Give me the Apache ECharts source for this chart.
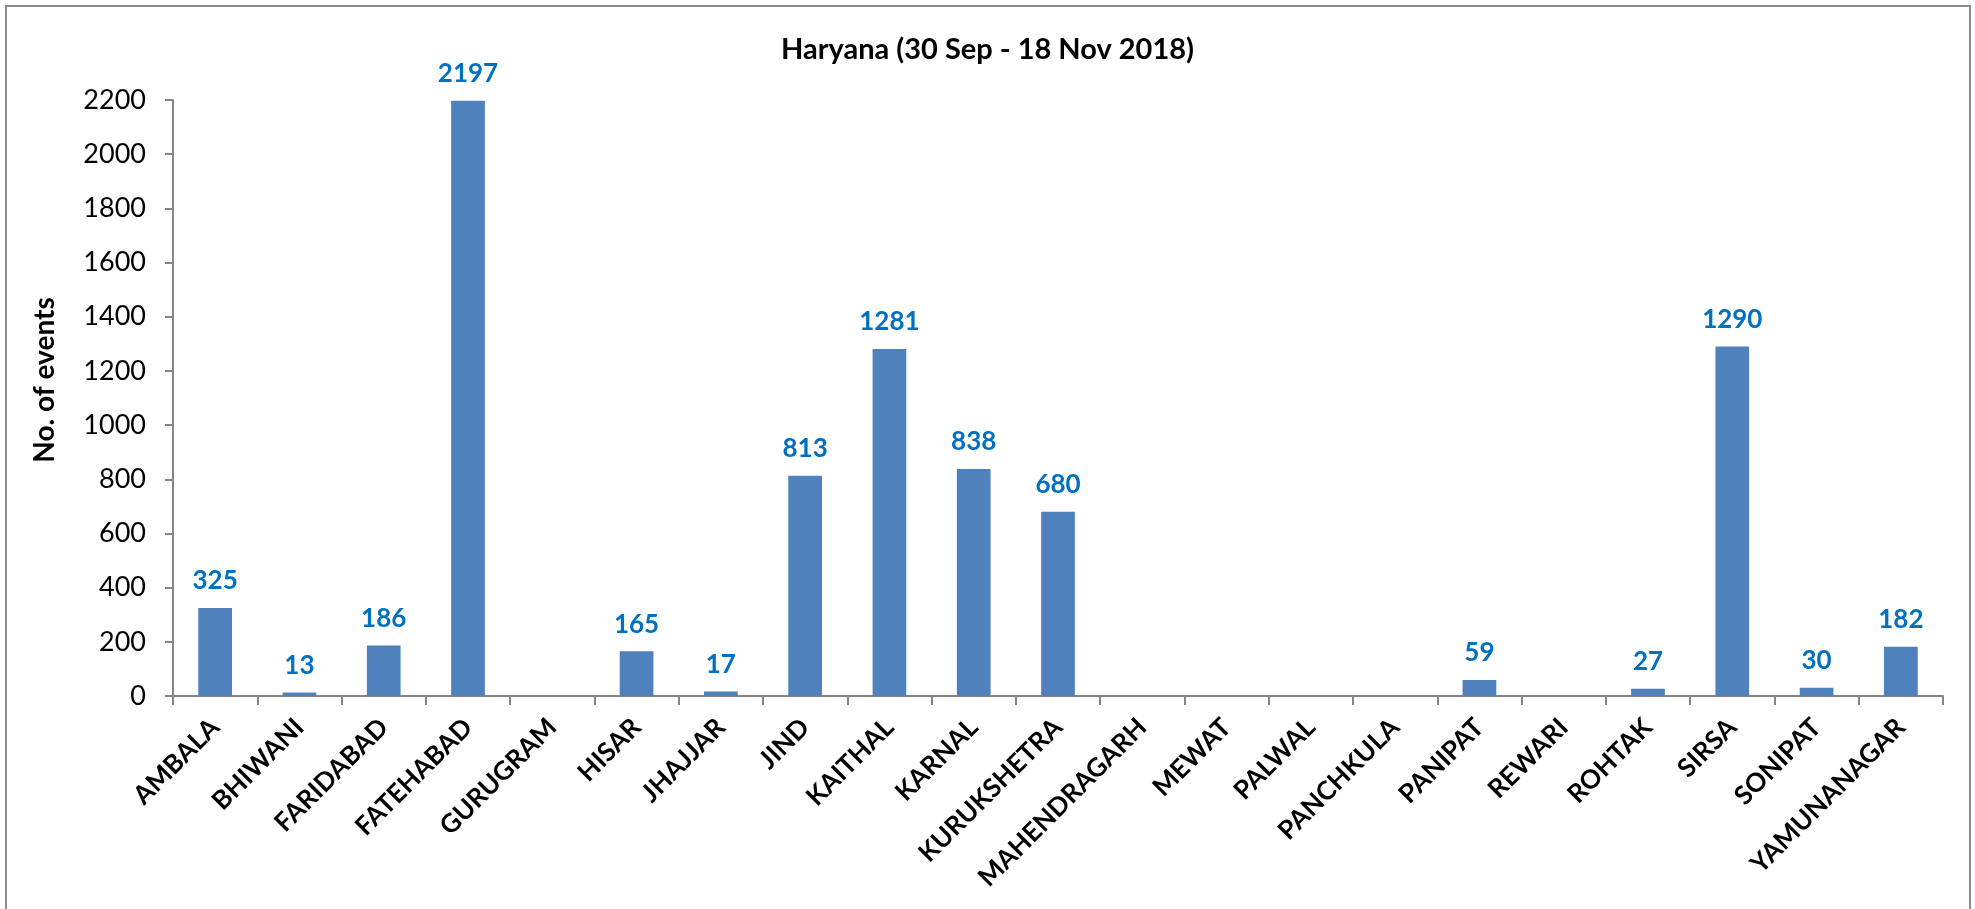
<!DOCTYPE html>
<html>
<head>
<meta charset="utf-8">
<script src="https://cdn.jsdelivr.net/npm/echarts@6/dist/echarts.min.js"></script>
<style>
html,body{margin:0;padding:0;background:#fff;}
#chart{width:1975px;height:909px;}
</style>
</head>
<body>
<div id="chart"></div>
<script>
const titleText = 'Haryana (30 Sep - 18 Nov 2018)';
const yAxisName = 'No. of events';
const districts = ['AMBALA','BHIWANI','FARIDABAD','FATEHABAD','GURUGRAM','HISAR','JHAJJAR','JIND','KAITHAL','KARNAL','KURUKSHETRA','MAHENDRAGARH','MEWAT','PALWAL','PANCHKULA','PANIPAT','REWARI','ROHTAK','SIRSA','SONIPAT','YAMUNANAGAR'];
const events = [325,13,186,2197,0,165,17,813,1281,838,680,0,0,0,0,59,0,27,1290,30,182];
const yMin = 0, yMax = 2200, yStep = 200;

const FONT = 'Lato, "Open Sans", sans-serif';
const chart = echarts.init(document.getElementById('chart'));
chart.setOption({
  backgroundColor: '#ffffff',
  animation: false,
  graphic: [{
    type: 'rect',
    shape: {x: 6, y: 6, width: 1964, height: 920},
    style: {fill: 'none', stroke: '#8c8c8c', lineWidth: 2},
    silent: true
  }],
  title: {
    text: titleText,
    left: 'center',
    top: 30,
    textStyle: {fontFamily: FONT, fontWeight: 'bold', fontSize: 29, color: '#000'}
  },
  grid: {left: 173, right: 32, top: 100, bottom: 213, containLabel: false},
  xAxis: {
    type: 'category',
    data: districts,
    axisLine: {lineStyle: {color: '#868686', width: 2}},
    axisTick: {show: true, length: 9, alignWithLabel: false, lineStyle: {color: '#868686', width: 2}},
    axisLabel: {
      rotate: 45, interval: 0, margin: 27,
      fontFamily: FONT, fontWeight: 'bold', fontSize: 26, color: '#000'
    }
  },
  yAxis: {
    type: 'value',
    min: yMin, max: yMax, interval: yStep,
    name: yAxisName,
    nameLocation: 'middle',
    nameGap: 114,
    nameRotate: 90,
    nameTextStyle: {fontFamily: FONT, fontWeight: 'bold', fontSize: 28, color: '#000', padding: [0, 0, 0, 36]},
    axisLine: {show: true, lineStyle: {color: '#868686', width: 2}},
    axisTick: {show: true, length: 8, lineStyle: {color: '#868686', width: 2}},
    splitLine: {show: false},
    axisLabel: {margin: 27, fontFamily: FONT, fontSize: 27, color: '#000', formatter: v => String(v)}
  },
  series: [{
    type: 'bar',
    data: events,
    barWidth: '40%',
    itemStyle: {color: '#4f81bd', borderWidth: 0},
    label: {
      show: true,
      position: 'top',
      distance: 14,
      fontFamily: FONT, fontWeight: 'bold', fontSize: 26, color: '#0070c0',
      formatter: p => (p.value ? String(p.value) : '')
    }
  }]
});
</script>
</body>
</html>
